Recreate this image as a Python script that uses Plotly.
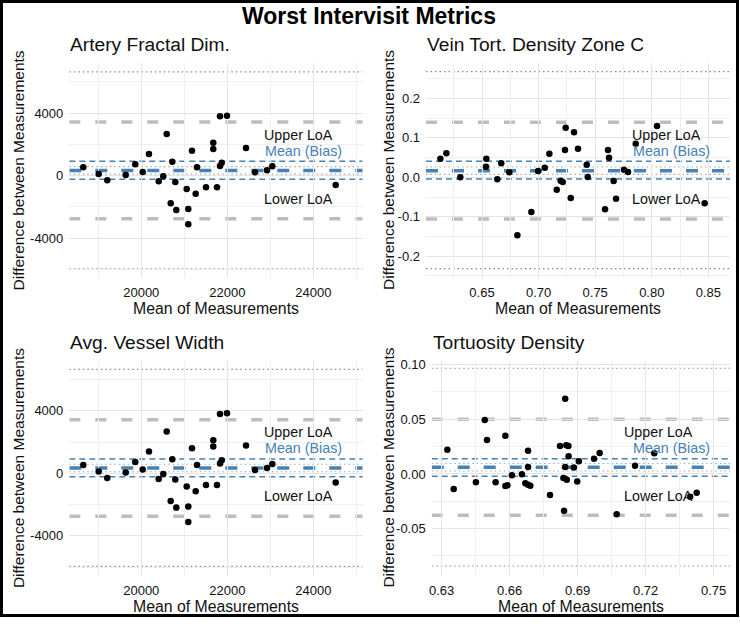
import plotly.graph_objects as go

W, H = 740, 626
FONT = "Liberation Sans, Arial, Helvetica, sans-serif"

# ---------------- data ----------------
# Artery Fractal Dim. (top-left)
artery_mean = [18651, 19009, 19209, 19637, 19860, 20033, 20179, 20405, 20512, 20591,
               20684, 20721, 20791, 20814, 21056, 21093, 21093, 21179, 21265, 21295,
               21505, 21674, 21674, 21760, 21830, 21830, 21870, 21993, 22435, 22644,
               22923, 23047, 24521]
artery_diff = [538, 109, -294, 45, 730, 237, 1389, -358, -38, 2669,
               -1766, 896, -403, -2195, -851, -2131, -3110, 1600, -1152, 538,
               -742, 2112, 1709, -742, 3802, 621, 832, 3840, 1773, 218,
               346, 602, -595]
artery_stats = dict(bias=340, upper=3430, lower=-2750, ci_hi=920, ci_lo=-220,
                    band_hi=580, band_lo=100, outer_hi=6650, outer_lo=-5960)

# Vein Tort. Density Zone C (top-right)
vein_mean = [0.6132, 0.6185, 0.6308, 0.6538, 0.6535, 0.6635, 0.6670, 0.6741, 0.6936, 0.6812,
             0.6995, 0.7054, 0.7095, 0.7160, 0.7195, 0.7213, 0.7239, 0.7233, 0.7284, 0.7313,
             0.7348, 0.7425, 0.7434, 0.7587, 0.7613, 0.7622, 0.7663, 0.7684, 0.7754, 0.7790,
             0.7858, 0.8046, 0.8467]
vein_diff = [0.0472, 0.0609, 0.0000, 0.0472, 0.0269, -0.0051, 0.0355, 0.0127, -0.0881, -0.1472,
             0.0160, 0.0244, 0.0600, -0.0315, -0.0086, -0.0120, 0.1259, 0.0693, -0.0525, 0.1142,
             0.0726, 0.0320, 0.0008, -0.0812, 0.0693, 0.0497, -0.0094, -0.0543, 0.0193, 0.0135,
             0.0853, 0.1302, -0.0660]
vein_stats = dict(bias=0.0168, upper=0.1396, lower=-0.1058, ci_hi=0.0406, ci_lo=-0.0043,
                  band_hi=0.0262, band_lo=0.0074, outer_hi=0.268, outer_lo=-0.232)

# Avg. Vessel Width (bottom-left)
width_mean = [18651, 19009, 19209, 19637, 19860, 20033, 20179, 20405, 20512, 20591,
              20684, 20721, 20791, 20814, 21056, 21093, 21093, 21179, 21265, 21295,
              21505, 21674, 21674, 21760, 21830, 21830, 21870, 21993, 22435, 22644,
              22923, 23047, 24521]
width_diff = [538, 109, -294, 45, 730, 237, 1389, -358, -38, 2669,
              -1766, 896, -403, -2195, -851, -2131, -3110, 1600, -1152, 538,
              -742, 2112, 1709, -742, 3802, 621, 832, 3840, 1773, 218,
              346, 602, -595]
width_stats = dict(bias=340, upper=3430, lower=-2750, ci_hi=920, ci_lo=-220,
                   band_hi=580, band_lo=100, outer_hi=6650, outer_lo=-5960)

# Tortuosity Density (bottom-right)
tort_mean = [0.6325, 0.6353, 0.6451, 0.6490, 0.6500, 0.6538, 0.6581, 0.6581, 0.6590, 0.6610,
             0.6654, 0.6669, 0.6681, 0.6681, 0.6681, 0.6691, 0.6778, 0.6822, 0.6837, 0.6840,
             0.6845, 0.6850, 0.6859, 0.6845, 0.6852, 0.6860, 0.6883, 0.6898, 0.6905, 0.6972,
             0.6997, 0.7072, 0.7153, 0.7238, 0.7396, 0.7425]
tort_diff = [0.0222, -0.0137, -0.0076, 0.0494, 0.0311, -0.0076, 0.0350, -0.0110, -0.0104, -0.0012,
             -0.0003, -0.0085, 0.0213, 0.0064, -0.0098, -0.0107, -0.0192, 0.0256, -0.0037, -0.0336,
             0.0689, 0.0262, 0.0256, 0.0064, -0.0052, 0.0162, 0.0058, -0.0070, 0.0116, 0.0140,
             0.0192, -0.0369, 0.0076, 0.0189, -0.0208, -0.0171]
tort_stats = dict(bias=0.0061, upper=0.0500, lower=-0.0378, ci_hi=0.0140, ci_lo=-0.0021,
                  band_hi=0.0095, band_lo=0.0027, outer_hi=0.0967, outer_lo=-0.0842)

titles = ["Artery Fractal Dim.", "Vein Tort. Density Zone C", "Avg. Vessel Width", "Tortuosity Density"]

tl_xticks = [20000, 22000, 24000]
tl_xminor = [19000, 21000, 23000, 25000]
tl_yticks = [-4000, 0, 4000]
tl_yminor = [-6000, -2000, 2000, 6000]
tr_xticks = [0.65, 0.70, 0.75, 0.80, 0.85]
tr_xminor = [0.625, 0.675, 0.725, 0.775, 0.825]
tr_yticks = [-0.2, -0.1, 0.0, 0.1, 0.2]
tr_yminor = [-0.25, -0.15, -0.05, 0.05, 0.15, 0.25]
br_xticks = [0.63, 0.66, 0.69, 0.72, 0.75]
br_xminor = [0.645, 0.675, 0.705, 0.735]
br_yticks = [-0.05, 0.00, 0.05, 0.10]
br_yminor = [-0.075, -0.025, 0.025, 0.075]

def lab(vals, fmt):
    return [(fmt % v) for v in vals]

panels = [
    dict(x=artery_mean, y=artery_diff, st=artery_stats, title=titles[0],
         px=(69.3, 362.7), py=(63, 278), xr=[18326, 25149], yr=[-6547, 7213],
         xt=tl_xticks, xtt=lab(tl_xticks, "%d"), xm=tl_xminor,
         yt=tl_yticks, ytt=lab(tl_yticks, "%d"), ym=tl_yminor),
    dict(x=vein_mean, y=vein_diff, st=vein_stats, title=titles[1],
         px=(426, 730), py=(63, 278), xr=[0.6005, 0.8691], yr=[-0.2556, 0.2901],
         xt=tr_xticks, xtt=lab(tr_xticks, "%.2f"), xm=tr_xminor,
         yt=tr_yticks, ytt=lab(tr_yticks, "%.1f"), ym=tr_yminor),
    dict(x=width_mean, y=width_diff, st=width_stats, title=titles[2],
         px=(69.3, 362.7), py=(360.6, 575.6), xr=[18326, 25149], yr=[-6547, 7213],
         xt=tl_xticks, xtt=lab(tl_xticks, "%d"), xm=tl_xminor,
         yt=tl_yticks, ytt=lab(tl_yticks, "%d"), ym=tl_yminor),
    dict(x=tort_mean, y=tort_diff, st=tort_stats, title=titles[3],
         px=(431.7, 730), py=(360.6, 575.6), xr=[0.6256, 0.7572], yr=[-0.093, 0.1037],
         xt=br_xticks, xtt=lab(br_xticks, "%.2f"), xm=br_xminor,
         yt=br_yticks, ytt=lab(br_yticks, "%.2f"), ym=br_yminor),
]

# pixel -> paper fraction
def fx(p):
    return p / W

def fy(p):
    return 1 - p / H

fig = go.Figure()
layout = dict(
    width=W, height=H,
    margin=dict(l=0, r=0, t=0, b=0),
    paper_bgcolor="white", plot_bgcolor="white",
    showlegend=False, hovermode=False,
    font=dict(family=FONT, color="#111111"),
)
shapes = []
annotations = []

STEEL = "#4682b4"
GRID = "#e4e4e4"
GRID_MINOR = "#efefef"

for i, p in enumerate(panels):
    n = "" if i == 0 else str(i + 1)
    xa, ya = "x" + n, "y" + n
    layout["xaxis" + n] = dict(
        domain=[fx(p["px"][0]), fx(p["px"][1])], range=p["xr"], anchor=ya,
        tickmode="array", tickvals=p["xt"], ticktext=p["xtt"],
        showgrid=True, gridcolor=GRID, gridwidth=1.1, zeroline=False, showline=False,
        showspikes=False,
        ticks="", ticklabelstandoff=5, automargin=False,
        tickfont=dict(size=13, color="#111111", family=FONT),
        minor=dict(tickvals=p["xm"], showgrid=True, gridcolor=GRID_MINOR, gridwidth=0.8, ticks=""),
    )
    layout["yaxis" + n] = dict(
        domain=[fy(p["py"][1]), fy(p["py"][0])], range=p["yr"], anchor=xa,
        tickmode="array", tickvals=p["yt"], ticktext=p["ytt"],
        showgrid=True, gridcolor=GRID, gridwidth=1.1, zeroline=False, showline=False,
        showspikes=False,
        ticks="", ticklabelstandoff=5, automargin=False,
        tickfont=dict(size=13, color="#111111", family=FONT),
        minor=dict(tickvals=p["ym"], showgrid=True, gridcolor=GRID_MINOR, gridwidth=0.8, ticks=""),
    )
    st = p["st"]
    xr0, xr1 = p["xr"]

    def hline(v, color, width, dash):
        shapes.append(dict(type="line", xref=xa, yref=ya, x0=xr0, x1=xr1, y0=v, y1=v,
                           line=dict(color=color, width=width, dash=dash), layer="below"))

    hline(st["outer_hi"], "#8a8a8a", 1.2, "1.5px,3px")
    hline(st["outer_lo"], "#8a8a8a", 1.2, "1.5px,3px")
    hline(st["upper"], "#bdbdbd", 3.5, "11px,15px")
    hline(st["lower"], "#bdbdbd", 3.5, "11px,15px")
    hline(st["band_hi"], "#a8a8a8", 1.1, "1.5px,3px")
    hline(st["band_lo"], "#a8a8a8", 1.1, "1.5px,3px")
    hline(st["ci_hi"], STEEL, 1.5, "6px,4px")
    hline(st["ci_lo"], STEEL, 1.5, "6px,4px")
    hline(st["bias"], STEEL, 3.5, "12px,14px")

    fig.add_trace(go.Scatter(x=p["x"], y=p["y"], mode="markers", xaxis=xa, yaxis=ya,
                             marker=dict(color="black", size=6.5), hoverinfo="skip"))

    # panel title
    annotations.append(dict(text=p["title"], xref="paper", yref="paper",
                            x=fx(p["px"][0] - 1), y=fy(p["py"][0] - 18), xanchor="left", yanchor="middle",
                            showarrow=False, font=dict(size=19.2, color="#111111", family=FONT)))
    # axis titles
    cx = (p["px"][0] + p["px"][1]) / 2
    cy = (p["py"][0] + p["py"][1]) / 2
    annotations.append(dict(text="Mean of Measurements", xref="paper", yref="paper",
                            x=fx(cx), y=fy(p["py"][1] + 31), xanchor="center", yanchor="middle",
                            showarrow=False, font=dict(size=15.8, color="#111111", family=FONT)))
    annotations.append(dict(text="Difference between Measurements", xref="paper", yref="paper",
                            x=fx(18 if p["px"][0] < 200 else 388.5), y=fy(cy), textangle=-90,
                            xanchor="center", yanchor="middle",
                            showarrow=False, font=dict(size=15.5, color="#111111", family=FONT)))

# LoA labels (x as fraction of panel width, y as pixel offset from panel top)
label_pos = [
    (0.656, 0.661, 0.656, 72, 88, 136),
    (0.671, 0.674, 0.671, 72, 88, 136),
    (0.656, 0.661, 0.656, 71.1, 87.1, 135.4),
    (0.637, 0.668, 0.637, 71.1, 87.1, 135.4),
]
for i, p in enumerate(panels):
    ux, mx, lx, uy, my, ly = label_pos[i]
    x0, x1 = p["px"]
    top = p["py"][0]
    for text, xf, ypx, col in [("Upper LoA", ux, uy, "#111111"), ("Mean (Bias)", mx, my, STEEL),
                               ("Lower LoA", lx, ly, "#111111")]:
        annotations.append(dict(text=text, xref="paper", yref="paper",
                                x=fx(x0 + xf * (x1 - x0)), y=fy(top + ypx),
                                xanchor="left", yanchor="middle", showarrow=False,
                                font=dict(size=14.3, color=col, family=FONT)))

# main title
annotations.append(dict(text="<b>Worst Intervisit Metrics</b>", xref="paper", yref="paper",
                        x=fx(369), y=fy(16.5), xanchor="center", yanchor="middle", showarrow=False,
                        font=dict(size=23, color="#000000", family=FONT)))

# outer frame
shapes.append(dict(type="rect", xref="paper", yref="paper",
                   x0=fx(1.5), x1=fx(737.5), y0=fy(615.5), y1=fy(1.5),
                   line=dict(color="black", width=3), layer="above"))

layout["shapes"] = shapes
layout["annotations"] = annotations
fig.update_layout(**layout)
fig.write_html("out.html",
               config={"displayModeBar": False},
               post_script="document.body.style.margin='0';document.body.style.overflow='hidden';")
